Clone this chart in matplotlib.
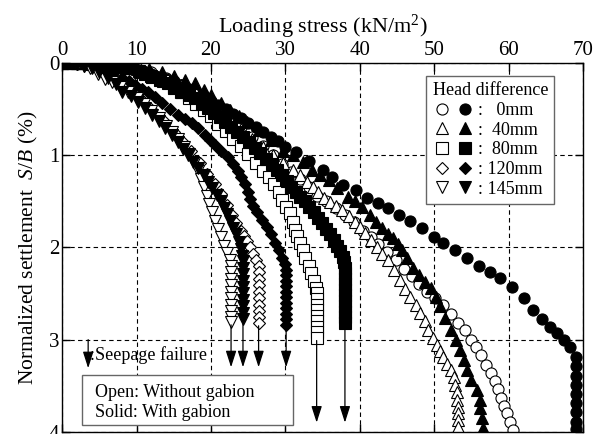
import numpy as np
import matplotlib
matplotlib.use("Agg")
import matplotlib.pyplot as plt
from matplotlib.patches import Rectangle
from matplotlib.legend_handler import HandlerTuple

plt.rcParams['font.family'] = ['Liberation Serif', 'DejaVu Serif']
plt.rcParams['mathtext.fontset'] = 'custom'
plt.rcParams['mathtext.rm'] = 'Liberation Serif'
plt.rcParams['mathtext.it'] = 'Liberation Serif:italic'

# (loading stress kN/m2, normalized settlement %)
h0_solid = [(0, 0), (1, 0), (2, 0), (3, 0), (4, 0.01), (5, 0.01), (6, 0.02), (7, 0.03), (8, 0.04), (9, 0.06),
            (10, 0.08), (11, 0.1), (12, 0.12), (13, 0.15), (14, 0.17), (15, 0.2), (16, 0.24), (17, 0.28),
            (18, 0.32), (19, 0.36), (20, 0.41), (21, 0.46), (22, 0.5), (23, 0.55), (24, 0.6), (25, 0.65),
            (26, 0.7), (27, 0.75), (28, 0.8), (29, 0.85), (30, 0.91), (31.4, 0.97), (33.2, 1.06), (35, 1.16),
            (36.3, 1.24), (37.8, 1.32), (39.5, 1.38), (41, 1.46), (42.5, 1.52), (43.8, 1.57), (45.2, 1.65),
            (46.8, 1.71), (48.4, 1.79), (49.9, 1.89), (51.2, 1.95), (52.8, 2.03), (54.4, 2.12), (56, 2.2),
            (57.5, 2.27), (58.9, 2.33), (60.5, 2.43), (62, 2.55), (63.3, 2.68), (64.5, 2.78), (65.5, 2.86),
            (66.5, 2.93), (67.4, 3.0), (68.3, 3.08), (69, 3.19), (69.1, 3.29), (69.1, 3.39), (69.1, 3.49),
            (69.1, 3.59), (69.1, 3.69), (69.1, 3.79), (69.1, 3.89), (69.1, 3.97)]
h0_open = [(0, 0), (2, 0), (4, 0), (6, 0.01), (8, 0.03), (10, 0.06), (12, 0.1), (14, 0.16), (16, 0.24),
           (18, 0.33), (19.5, 0.41), (21, 0.5), (22.5, 0.6), (24, 0.7), (25.5, 0.8), (27, 0.9), (28.3, 1.0),
           (29.5, 1.1), (30.8, 1.18), (32, 1.26), (33.2, 1.35), (34.3, 1.44), (35.5, 1.5), (36.8, 1.57),
           (38, 1.65), (39.2, 1.73), (40.4, 1.82), (41.5, 1.89), (42.5, 1.96), (43.7, 2.05), (44.8, 2.14),
           (46, 2.23), (47, 2.31), (48, 2.4), (49, 2.48), (50.1, 2.55), (51.2, 2.62), (52.3, 2.72),
           (53.2, 2.82), (54.1, 2.9), (54.9, 3.0), (55.6, 3.08), (56.3, 3.17), (57, 3.27), (57.6, 3.36),
           (58.1, 3.45), (58.6, 3.54), (59, 3.63), (59.4, 3.72), (59.8, 3.8), (60.2, 3.89), (60.6, 3.98)]
h40_solid = [(0, 0), (2, 0), (4, 0), (6, 0.01), (8, 0.02), (10, 0.04), (11.7, 0.07), (13.4, 0.1), (15, 0.14),
             (16.5, 0.18), (17.9, 0.22), (19, 0.29), (20, 0.35), (21.3, 0.43), (22.6, 0.51), (23.8, 0.58),
             (24.9, 0.64), (26.4, 0.73), (28, 0.84), (29.7, 0.95), (31, 1.0), (32.3, 1.07), (33.6, 1.16),
             (34.7, 1.22), (35.8, 1.27), (37, 1.36), (38.4, 1.45), (39.4, 1.5), (40.3, 1.56), (41.4, 1.65),
             (42.2, 1.72), (43, 1.79), (43.8, 1.85), (44.5, 1.9), (45.1, 1.96), (45.7, 2.03), (46.4, 2.12),
             (47.2, 2.22), (48, 2.3), (48.8, 2.37), (49.5, 2.44), (50.2, 2.54), (50.8, 2.64), (51.5, 2.77),
             (52.2, 2.9), (52.9, 3.0), (53.5, 3.11), (54, 3.22), (54.4, 3.33), (55, 3.44), (55.8, 3.55),
             (56.1, 3.65), (56.2, 3.74), (56.4, 3.85), (56.5, 3.96)]
h40_open = [(0, 0), (2, 0), (4, 0.01), (6, 0.02), (8, 0.04), (10, 0.07), (12, 0.11), (14, 0.17), (16, 0.24),
            (18, 0.33), (19.5, 0.42), (21, 0.52), (22.5, 0.62), (24, 0.72), (25.5, 0.82), (27, 0.91),
            (28.4, 1.0), (29.7, 1.08), (31, 1.16), (32, 1.22), (32.9, 1.29), (33.7, 1.35), (34.4, 1.4),
            (35.2, 1.46), (36, 1.51), (36.8, 1.55), (37.6, 1.6), (38.5, 1.66), (39.4, 1.72), (40, 1.78),
            (40.7, 1.84), (41.5, 1.92), (42.3, 2.0), (43, 2.07), (43.8, 2.14), (44.6, 2.24), (45.4, 2.35),
            (46.1, 2.45), (46.8, 2.54), (47.5, 2.62), (48.1, 2.71), (48.7, 2.8), (49.2, 2.9), (49.8, 2.98),
            (50.4, 3.06), (50.8, 3.12), (51.2, 3.19), (51.7, 3.26), (52.2, 3.33), (52.6, 3.41), (52.8, 3.49),
            (53, 3.57), (53.1, 3.65), (53.2, 3.73), (53.2, 3.8), (53.2, 3.87), (53.2, 3.95)]
h80_solid = [(0, 0), (0.8, 0), (1.6, 0), (2.4, 0), (3.2, 0), (4, 0.01), (4.8, 0.01), (5.8, 0.02), (6.8, 0.03),
             (7.8, 0.04), (8.6, 0.05), (9.4, 0.06), (10.3, 0.09), (11.2, 0.12), (12.1, 0.15), (13.1, 0.18),
             (14.2, 0.22), (15.1, 0.27), (16.1, 0.31), (17, 0.35), (17.9, 0.38), (18.8, 0.44), (19.6, 0.49),
             (20.4, 0.54), (21.2, 0.59), (21.9, 0.64), (22.7, 0.7), (23.5, 0.75), (24.3, 0.8), (25.1, 0.86),
             (25.9, 0.92), (26.6, 0.98), (27.4, 1.04), (28.2, 1.1), (28.9, 1.16), (29.6, 1.22), (30.2, 1.28),
             (30.8, 1.34), (31.4, 1.4), (32, 1.45), (32.6, 1.5), (33.2, 1.56), (33.8, 1.62), (34.4, 1.68),
             (34.9, 1.74), (35.5, 1.8), (36, 1.86), (36.5, 1.92), (37, 1.98), (37.4, 2.04), (37.7, 2.1),
             (37.9, 2.16), (38, 2.22), (38, 2.28), (38, 2.34), (38, 2.4), (38, 2.46), (38, 2.52), (38, 2.58),
             (38, 2.64), (38, 2.7), (38, 2.76), (38, 2.82)]
h80_open = [(0, 0), (1.5, 0), (3, 0), (4.5, 0.01), (6, 0.02), (7.5, 0.04), (9, 0.06), (10.5, 0.1), (12, 0.14),
            (13.5, 0.2), (15, 0.26), (16, 0.32), (17, 0.38), (18, 0.44), (19, 0.51), (20, 0.58), (21, 0.66),
            (22, 0.74), (23, 0.82), (24, 0.9), (25, 0.99), (26, 1.08), (27, 1.17), (27.8, 1.24), (28.5, 1.31),
            (29.1, 1.4), (29.6, 1.49), (30.1, 1.56), (30.6, 1.63), (31, 1.72), (31.3, 1.81), (31.6, 1.88),
            (31.9, 1.95), (32.4, 2.03), (32.7, 2.12), (33.2, 2.2), (33.4, 2.28), (33.8, 2.36), (34.1, 2.44),
            (34.2, 2.5), (34.2, 2.56), (34.2, 2.62), (34.2, 2.68), (34.2, 2.74), (34.2, 2.8), (34.2, 2.86),
            (34.2, 2.92), (34.2, 2.98)]
h120_solid = [(0, 0), (1.5, 0), (3, 0.01), (4.5, 0.03), (6, 0.06), (7, 0.1), (8.1, 0.16), (9, 0.2), (9.8, 0.24),
              (10.7, 0.28), (11.6, 0.31), (12.5, 0.37), (13.4, 0.43), (14.5, 0.5), (15.6, 0.56), (16.5, 0.61),
              (17.5, 0.65), (18.3, 0.71), (19.2, 0.78), (19.9, 0.84), (20.6, 0.89), (21.4, 0.95), (22.3, 1.02),
              (23, 1.1), (23.6, 1.17), (24.1, 1.24), (24.6, 1.31), (25, 1.4), (25.3, 1.48), (25.7, 1.55),
              (26.2, 1.62), (26.8, 1.7), (27.5, 1.78), (28, 1.86), (28.6, 1.95), (29.1, 2.03), (29.6, 2.11),
              (30, 2.18), (30.1, 2.24), (30.1, 2.3), (30.1, 2.36), (30.1, 2.42), (30.1, 2.48), (30.1, 2.54),
              (30.1, 2.6), (30.1, 2.66), (30.1, 2.72), (30.1, 2.78), (30.1, 2.84)]
h120_open = [(0, 0), (2, 0.01), (4, 0.04), (6, 0.12), (7.5, 0.2), (9, 0.28), (10.5, 0.38), (12, 0.5),
             (13.5, 0.62), (15, 0.75), (16.2, 0.86), (17.3, 0.96), (18.5, 1.08), (19.5, 1.2), (20.5, 1.31),
             (21.3, 1.42), (22.1, 1.54), (22.8, 1.65), (23.4, 1.74), (24, 1.82), (24.4, 1.88), (24.8, 1.93),
             (25.2, 2.0), (25.6, 2.07), (26, 2.14), (26.4, 2.2), (26.4, 2.27), (26.4, 2.34), (26.4, 2.41),
             (26.4, 2.48), (26.4, 2.55), (26.4, 2.62), (26.4, 2.69), (26.4, 2.76), (26.4, 2.82)]
h145_solid = [(0, 0), (1, 0), (2, 0.01), (3, 0.03), (4, 0.06), (5, 0.1), (6.2, 0.16), (7.2, 0.23), (8.1, 0.31),
              (9.2, 0.36), (10.2, 0.42), (11.2, 0.49), (12.1, 0.56), (13, 0.63), (13.8, 0.71), (14.7, 0.78),
              (15.6, 0.86), (16.3, 0.93), (16.9, 1.0), (17.6, 1.07), (18.3, 1.14), (19, 1.21), (19.6, 1.29),
              (20.2, 1.36), (20.8, 1.43), (21.3, 1.5), (21.8, 1.57), (22.2, 1.64), (22.6, 1.71), (23, 1.79),
              (23.4, 1.86), (23.7, 1.94), (24, 2.02), (24.2, 2.09), (24.3, 2.15), (24.3, 2.22), (24.3, 2.29),
              (24.3, 2.36), (24.3, 2.43), (24.3, 2.5), (24.3, 2.57), (24.3, 2.64), (24.3, 2.71), (24.3, 2.78)]
h145_open = [(0, 0), (1, 0), (2, 0.01), (3, 0.03), (3.8, 0.06), (4.8, 0.12), (5.8, 0.17), (6.7, 0.21),
             (7.8, 0.26), (8.9, 0.31), (10, 0.38), (11, 0.45), (12, 0.52), (13, 0.6), (14, 0.68), (14.8, 0.75),
             (15.6, 0.83), (16.4, 0.91), (17.1, 0.99), (17.7, 1.08), (18.2, 1.17), (18.7, 1.26), (19.1, 1.35),
             (19.5, 1.44), (19.8, 1.53), (20.2, 1.62), (20.5, 1.71), (20.9, 1.8), (21.3, 1.89), (21.7, 1.98),
             (22.1, 2.06), (22.5, 2.14), (22.7, 2.2), (22.7, 2.27), (22.7, 2.34), (22.7, 2.41), (22.7, 2.48),
             (22.7, 2.55), (22.7, 2.62), (22.7, 2.69), (22.7, 2.76), (22.7, 2.81)]

# seepage failure arrows: stress, start and end of the arrow
fail_x = [22.7, 24.3, 26.4, 30.1, 34.2, 38.0]
fail_top = [2.84, 2.81, 2.85, 2.87, 3.01, 2.85]
fail_end = [3.3, 3.3, 3.3, 3.3, 3.9, 3.9]

heads = ['0mm', '40mm', '80mm', '120mm', '145mm']
head_labels = [':   0mm', ':  40mm', ':  80mm', ': 120mm', ': 145mm']
markers = ['o', '^', 's', 'D', 'v']
msizes = [8, 8.5, 8, 6.5, 8.5]
open_data = [h0_open, h40_open, h80_open, h120_open, h145_open]
solid_data = [h0_solid, h40_solid, h80_solid, h120_solid, h145_solid]

fig = plt.figure(figsize=(6.03, 4.34), dpi=100)
ax = fig.add_axes([0.103, 0.005, 0.864, 0.850])

handles = []
for i in range(len(heads)):
    xo, yo = np.array(open_data[i]).T
    xs, ys = np.array(solid_data[i]).T
    lo, = ax.plot(xo, yo, ls='none', marker=markers[i], ms=msizes[i], mfc='white', mec='black', mew=0.8)
    ls_, = ax.plot(xs, ys, ls='none', marker=markers[i], ms=msizes[i], mfc='black', mec='black', mew=0.8)
    handles.append((lo, ls_))

arrow_style = '-|>,head_length=1.0,head_width=0.32'
for fx, ft, fe in zip(fail_x, fail_top, fail_end):
    ax.annotate('', xy=(fx, fe), xytext=(fx, ft),
                arrowprops=dict(arrowstyle=arrow_style, color='black', lw=0.9, shrinkA=0, shrinkB=0))

# seepage failure key
ax.annotate('', xy=(3.5, 3.31), xytext=(3.5, 3.0),
            arrowprops=dict(arrowstyle=arrow_style, color='black', lw=0.9, shrinkA=0, shrinkB=0))
ax.text(3.7, 3.17, ':Seepage failure', fontsize=13, va='center', ha='left')

ax.add_patch(Rectangle((2.7, 3.38), 28.3, 0.55, fc='white', ec='0.4', lw=1, zorder=4))
ax.text(4.4, 3.57, 'Open: Without gabion', fontsize=13, va='center', ha='left', zorder=5)
ax.text(4.4, 3.79, 'Solid: With gabion', fontsize=13, va='center', ha='left', zorder=5)

leg = ax.legend(handles, head_labels, handler_map={tuple: HandlerTuple(ndivide=None, pad=0.3)},
                title='Head difference', alignment='left', loc='upper left',
                bbox_to_anchor=(0.699, 0.965), borderaxespad=0, fontsize=13, title_fontsize=13,
                handlelength=2.3, handletextpad=0.2, labelspacing=0.15, borderpad=0.35,
                fancybox=False, framealpha=1, edgecolor='0.4')
leg.get_frame().set_linewidth(1)

ax.set_xlim(0, 70)
ax.set_ylim(4, 0)
ax.set_xticks(np.arange(0, 71, 10))
ax.set_yticks(np.arange(0, 5, 1))
ax.xaxis.tick_top()
ax.xaxis.set_label_position('top')
ax.tick_params(axis='both', direction='in', labelsize=15, length=6, width=1,
               top=True, bottom=True, left=True, right=True, pad=2)
ax.grid(True, color='black', lw=0.8, ls=(0, (4, 3)))
ax.set_axisbelow(True)
for sp in ax.spines.values():
    sp.set_linewidth(1)

ax.set_xlabel('Loading stress (kN/m$^2$)', fontsize=16, labelpad=6)
ax.set_ylabel('Normalized settlement  $S/B$ (%)', fontsize=15.5, labelpad=6)

fig.savefig('out.png', dpi=100)
